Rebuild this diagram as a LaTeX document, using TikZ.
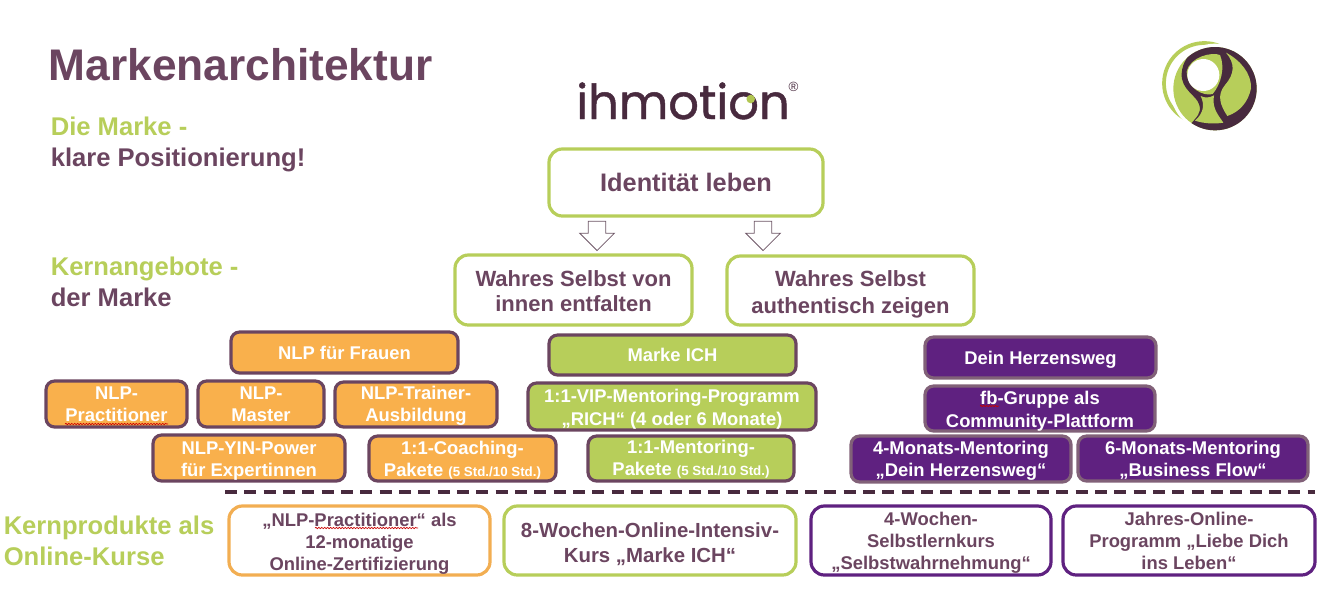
\documentclass[tikz,border=0pt]{standalone}
\usepackage{fontspec}
\setmainfont{Liberation Sans}
\newfontfamily\logofont[FakeBold=1]{Poppins}
\usetikzlibrary{shapes.arrows,decorations.pathmorphing}
\definecolor{plum}{HTML}{6B4560}
\definecolor{darkplum}{HTML}{482A3E}
\definecolor{lime}{HTML}{B7CE5A}
\definecolor{orangefill}{HTML}{F9B04C}
\definecolor{orangeline}{HTML}{F2AE52}
\definecolor{violet}{HTML}{5F2180}
\tikzset{
  sized/.style 2 args={minimum width=#1*0.75pt, minimum height=#2*0.75pt},
  txt/.style 2 args={font=\fontsize{#1}{#2}\selectfont\bfseries, align=center},
  box/.style={draw, line width=2.4pt, rounded corners=6.5pt, inner sep=0pt},
  frame/.style={box, rounded corners=10pt, fill=white, text=plum},
  limeframe/.style={frame, draw=lime},
  orangeframe/.style={frame, draw=orangeline},
  violetframe/.style={frame, draw=violet},
  orangebox/.style={box, draw=plum, fill=orangefill, text=white, txt={13.8}{16.8}},
  limebox/.style={box, draw=plum, fill=lime, text=white, txt={13.8}{16.8}},
  violetbox/.style={box, draw=plum!85!white, fill=violet, text=white, txt={13.8}{16.8}},
  heading/.style={anchor=base west, inner sep=0pt, txt={19.2}{23}},
  spell/.style={red!80!black, line width=.5pt, decorate, decoration={snake, amplitude=.5pt, segment length=2.2pt}},
  downarrow/.style={draw=darkplum!80, fill=white, line width=.6pt, shape=single arrow, rotate=-90, inner xsep=0pt, inner ysep=6.3pt,
    single arrow head extend=6.4pt, single arrow tip angle=90, minimum width=25pt, minimum height=22pt}
}
\newcommand\std[1]{{\fontsize{10}{10}\selectfont #1}}
\newcommand\dn[1]{\rule{0pt}{#1pt}}
\begin{document}
\begin{tikzpicture}[x=0.75pt,y=-0.75pt]
  \useasboundingbox (0,0) rectangle (1323,590);

  % headings on the left
  \node[heading, text=plum, txt={33.2}{36}] (title) at (48.5,80) {Markenarchitektur};
  \node[heading, text=lime] (marke) at (50.5,135) {Die Marke -};
  \node[heading, text=plum] (klar) at (50.5,166) {klare Positionierung!};
  \node[heading, text=lime] (kern) at (50.5,275) {Kernangebote -};
  \node[heading, text=plum] (dermarke) at (50.5,306) {der Marke};
  \node[heading, text=lime] (produkte) at (3.5,534) {Kernprodukte als};
  \node[heading, text=lime] (online) at (3.5,565) {Online-Kurse};

  % word mark
  \node[anchor=base, inner sep=0pt, text=darkplum, font=\logofont\fontsize{36}{37}\selectfont] (wordmark) at (683,119) {ihmotion};
  \node[inner sep=0pt, text=darkplum, font=\fontsize{10}{10}\selectfont] (reg) at (793.5,87) {®};
  \fill[lime!90!olive] (750.7,99) circle (3.2pt);

  % emblem
  \begin{scope}[shift={(1140,30)},x=0.25pt,y=-0.25pt]
    \draw[lime, line width=2.8pt] (193,160) circle (121);
    \fill[white] (225,176) circle (135);
    \fill[lime] (225,176) circle (125);
    \begin{scope}
      \clip (225,176) circle (125);
      \fill[darkplum] (125,130) .. controls (130,60) and (200,40) .. (240,40)
        -- (380,40) -- (380,320) -- (150,320) -- (150,285)
        .. controls (170,260) and (185,250) .. (178,225)
        .. controls (170,195) and (122,180) .. (125,130) -- cycle;
    \end{scope}
    \fill[lime] (140,125) .. controls (150,80) and (215,65) .. (240,75)
      .. controls (255,110) and (245,160) .. (218,192)
      .. controls (190,200) and (140,175) .. (140,125) -- cycle;
    \fill[white] (190,135) circle (48);
    \fill[lime] (182,198) .. controls (195,205) and (210,203) .. (222,196)
      .. controls (215,235) and (235,255) .. (250,278)
      .. controls (220,283) and (190,280) .. (165,272)
      .. controls (190,250) and (195,225) .. (182,198) -- cycle;
    \fill[lime] (258,68) .. controls (300,90) and (335,130) .. (333,175)
      .. controls (325,215) and (300,245) .. (262,258)
      .. controls (240,225) and (230,195) .. (255,165)
      .. controls (285,130) and (285,100) .. (258,68) -- cycle;
  \end{scope}

  % top level
  \node[limeframe, sized={274}{67}, txt={19}{24}] (identity) at (686,182.5) {Identität leben};
  \node[limeframe, sized={237}{70}, txt={16.5}{18.8}] (innen) at (573.5,290) {\dn{13.5}Wahres Selbst von\\innen entfalten};
  \node[limeframe, sized={247}{69}, txt={16.5}{20}] (zeigen) at (850.5,290.5) {\dn{18}Wahres Selbst\\authentisch zeigen};
  \node[downarrow] (arrowa) at (597,231.5) {};
  \node[downarrow] (arrowb) at (763,231.5) {};

  % orange column
  \node[orangebox, sized={227}{41}] (frauen) at (344.5,352.5) {NLP für Frauen};
  \node[orangebox, sized={141}{46}] (practitioner) at (116.5,404) {NLP-\\Practitioner};
  \node[orangebox, sized={126}{46}] (master) at (261,404) {NLP-\\Master};
  \node[orangebox, sized={162}{45}] (trainer) at (416,404.5) {\dn{11.5}NLP-Trainer-\\Ausbildung};
  \node[orangebox, sized={192}{46}] (yin) at (249,458) {\dn{13.8}NLP-YIN-Power\\für Expertinnen};
  \node[orangebox, sized={187}{45}] (coaching) at (462.5,458.5) {\dn{12.2}1:1-Coaching-\\Pakete \std{(5 Std./10 Std.)}};

  % green column
  \node[limebox, sized={247}{40}] (ich) at (672.5,355) {Marke ICH};
  \node[limebox, sized={288}{47}] (vip) at (672,406.5) {\dn{13.8}1:1-VIP-Mentoring-Programm\\„RICH“ (4 oder 6 Monate)};
  \node[limebox, sized={206}{45}] (mentoring) at (691,458.5) {\dn{11.5}1:1-Mentoring-\\Pakete \std{(5 Std./10 Std.)}};

  % violet column
  \node[violetbox, sized={231}{41}] (herz) at (1040.5,357.5) {\dn{13}Dein Herzensweg};
  \node[violetbox, sized={230}{45}] (gruppe) at (1040,408.5) {\dn{13.8}fb-Gruppe als\\Community-Plattform};
  \node[violetbox, sized={220}{46}] (vier) at (961,459) {\dn{13}4-Monats-Mentoring\\„Dein Herzensweg“};
  \node[violetbox, sized={230}{45}] (sechs) at (1193,458.5) {\dn{12.2}6-Monats-Mentoring\\„Business Flow“};

  % separator
  \coordinate (sepa) at (225,492);
  \coordinate (sepb) at (1315,492);
  \draw[darkplum, line width=2.5pt, dash pattern=on 9pt off 5.5pt] (sepa) -- (sepb);

  % online courses
  \node[orangeframe, sized={261}{69}, txt={13.8}{16.5}] (kursa) at (359.5,540.5) {\dn{14.5}„NLP-Practitioner“ als\\12-monatige\\Online-Zertifizierung};
  \node[limeframe, sized={292}{69}, txt={15.3}{18.8}] (kursb) at (650,540.5) {\dn{17}8-Wochen-Online-Intensiv-\\Kurs „Marke ICH“};
  \node[violetframe, sized={240}{69}, txt={13.8}{16.5}] (kursc) at (931,540.5) {\dn{13}4-Wochen-\\Selbstlernkurs\\„Selbstwahrnehmung“};
  \node[violetframe, sized={252}{69}, txt={13.8}{16.5}] (kursd) at (1189,540.5) {\dn{11}Jahres-Online-\\Programm „Liebe Dich\\ins Leben“};

  % spell check marks
  \draw[spell] (65,424) -- (168,424);
  \draw[spell] (315,528) -- (418,528);
  \draw[spell] (980,406) -- (999,406);
\end{tikzpicture}
\end{document}
